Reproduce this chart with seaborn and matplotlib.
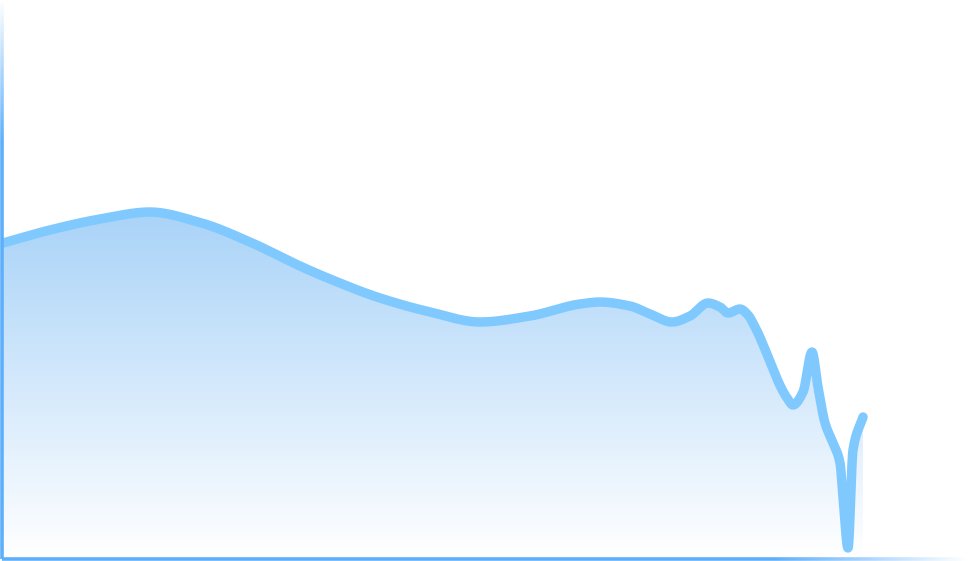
import numpy as np
import pandas as pd
import matplotlib
matplotlib.use("Agg")
import matplotlib.pyplot as plt
import seaborn as sns
from matplotlib.colors import LinearSegmentedColormap, to_rgba
from matplotlib.collections import LineCollection

# ---- data ----
day = [3, 50, 100, 150, 200, 250, 300, 330, 380, 430, 480, 530, 580, 600,
       630, 650, 672, 690, 708, 720, 728, 740, 748, 755, 787, 793, 803, 812,
       818, 825, 833, 840, 843, 848, 853, 863]
value = [56.37, 58.71, 60.68, 61.94, 60.05, 56.55, 52.24, 49.91, 46.50, 43.99,
         42.19, 43.27, 45.42, 45.78, 45.06, 43.63, 42.19, 43.27, 45.60, 44.88,
         43.81, 44.52, 43.45, 41.29, 28.55, 27.29, 29.62, 36.80, 30.52, 24.06,
         20.47, 16.88, 10.77, 1.62, 19.21, 25.13]

LINE = "#7fc9fe"
FILL_TOP = "#a9d3f8"
AXIS = "#5eaffb"

df = pd.DataFrame({"day": day, "value": value})


def monotone_curve(x, y, per=24):
    """Monotone cubic (curveMonotoneX-style) rendering of the series."""
    x = np.asarray(x, float)
    y = np.asarray(y, float)
    h = np.diff(x)
    d = np.diff(y) / h
    m = np.zeros_like(y)
    m[0], m[-1] = d[0], d[-1]
    for k in range(1, len(y) - 1):
        if d[k - 1] * d[k] <= 0:
            m[k] = 0.0
        else:
            w1 = 2 * h[k] + h[k - 1]
            w2 = h[k] + 2 * h[k - 1]
            m[k] = (w1 + w2) / (w1 / d[k - 1] + w2 / d[k])
    xs, ys = [], []
    for k in range(len(x) - 1):
        t = np.linspace(0, 1, per, endpoint=(k == len(x) - 2))
        h00 = 2 * t**3 - 3 * t**2 + 1
        h10 = t**3 - 2 * t**2 + t
        h01 = -2 * t**3 + 3 * t**2
        h11 = t**3 - t**2
        xs.append(x[k] + t * h[k])
        ys.append(h00 * y[k] + h10 * h[k] * m[k] + h01 * y[k + 1] + h11 * h[k] * m[k + 1])
    return np.concatenate(xs), np.concatenate(ys)


cx, cy = monotone_curve(df["day"], df["value"])
curve = pd.DataFrame({"day": cx, "value": cy})

sns.set_style("white")
fig = plt.figure(figsize=(9.68, 5.61), dpi=100)
ax = fig.add_axes([1.5 / 968, 4 / 561, 966.5 / 968, 557 / 561])
ax.axis("off")

# gradient fill under the curve
poly = ax.fill_between(curve["day"], 0, curve["value"], facecolor="none", edgecolor="none")
cmap = LinearSegmentedColormap.from_list("g", ["#ffffff", FILL_TOP])
grad = np.linspace(0, 1, 256).reshape(-1, 1)
top = max(value)
im = ax.imshow(grad, cmap=cmap, origin="lower", aspect="auto",
               extent=[min(day), max(day) + 4, 0, top], zorder=1)
im.set_clip_path(poly.get_paths()[0], transform=ax.transData)

# line
sns.lineplot(data=curve, x="day", y="value", ax=ax, sort=False, color=LINE,
             linewidth=6.8, zorder=3)
for ln in ax.get_lines():
    ln.set_solid_capstyle("round")
    ln.set_solid_joinstyle("round")

ax.set_xlim(1.5, 968)
ax.set_ylim(0, 100)
ax.axis("off")

# gradient axis lines
base = np.array(to_rgba(AXIS))


def fade_line(xs, ys, fade_start):
    pts = np.column_stack([xs, ys])
    segs = np.stack([pts[:-1], pts[1:]], axis=1)
    n = len(segs)
    f = np.linspace(0, 1, n)
    alpha = np.clip((1 - f) / (1 - fade_start), 0, 1)
    cols = np.tile(base, (n, 1))
    cols[:, 3] = alpha
    lc = LineCollection(segs, colors=cols, linewidths=2.6, clip_on=False, zorder=4,
                        capstyle="butt")
    ax.add_collection(lc)


N = 400
fade_line(np.linspace(1.5, 968, N), np.full(N, -0.35), 0.8)
fade_line(np.full(N, 2.2), np.linspace(-0.35, 100, N), 0.75)

fig.savefig("out.png", dpi=100)
